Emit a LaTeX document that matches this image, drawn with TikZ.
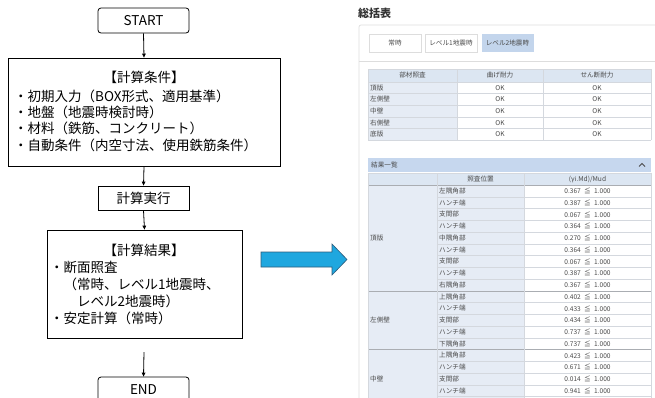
\documentclass[tikz,border=0pt]{standalone}
\usepackage{fontspec}
\setmainfont{Noto Sans CJK JP}
\usetikzlibrary{arrows.meta}
\definecolor{cellblue}{HTML}{E6ECF5}
\definecolor{headblue}{HTML}{DCE6F2}
\definecolor{barblue}{HTML}{C6D7EE}
\definecolor{tabblue}{HTML}{C3D5EC}
\definecolor{gridgray}{HTML}{D4D8DE}
\definecolor{cardgray}{HTML}{DDDDDD}
\definecolor{txtgray}{HTML}{4A4A4A}
\definecolor{arrowblue}{HTML}{1FA7DF}
\definecolor{arrowedge}{HTML}{2E5B7A}
\begin{document}
\begin{tikzpicture}[x=1pt,y=-1pt,
  flowbox/.style={draw=black, line width=0.8pt, fill=white, inner sep=0pt},
  startend/.style={flowbox, rounded corners=3pt, minimum width=91pt, minimum height=25pt, font=\fontsize{13.5}{16}\selectfont},
  flowtxt/.style={font=\fontsize{13.5}{16}\selectfont, inner sep=0pt, anchor=west},
  conn/.style={draw, line width=0.8pt, -{Triangle[length=4pt,width=3.6pt]}},
  small/.style={font=\fontsize{6.6}{8}\selectfont, text=txtgray, inner sep=0pt},
  tabbtn/.style={small, minimum width=52pt, minimum height=18pt, inner sep=0pt},
  grid/.style={draw=gridgray, line width=0.5pt}]
\useasboundingbox (0,0) rectangle (655,397);
\fill[white] (0,0) rectangle (655,397);

% ---------------- flowchart ----------------
\node[startend] (start) at (143.5,20.5) {START};
\node[flowbox, minimum width=272pt, minimum height=108pt] (cond) at (144,112) {};
\node[flowtxt, anchor=center] (c0) at (144,77) {【計算条件】};
\node[flowtxt] (c1) at (14,96) {・初期入力（BOX形式、適用基準）};
\node[flowtxt] (c2) at (14,112.3) {・地盤（地震時検討時）};
\node[flowtxt] (c3) at (14,128.6) {・材料（鉄筋、コンクリート）};
\node[flowtxt] (c4) at (14,145) {・自動条件（内空寸法、使用鉄筋条件）};

\node[flowbox, minimum width=91pt, minimum height=24pt, font=\fontsize{13.5}{16}\selectfont] (exec) at (143.5,198) {計算実行};

\node[flowbox, minimum width=195pt, minimum height=108pt] (res) at (144.5,284) {};
\node[flowtxt, anchor=center] (r0) at (144,250) {【計算結果】};
\node[flowtxt] (r1) at (50,267.5) {・断面照査};
\node[flowtxt] (r2) at (50,284.3) {　（常時、レベル1地震時、};
\node[flowtxt] (r3) at (50,301) {　　レベル2地震時）};
\node[flowtxt] (r4) at (50,318) {・安定計算（常時）};

\node[startend] (end) at (143.5,389.5) {END};
\coordinate (gap) at (144,352);

\draw[conn] (start.south) -- (cond.north);
\draw[conn] (cond.south) -- (exec.north);
\draw[conn] (exec.south) -- (res.north);
\draw[conn] (gap) -- (end.north);

% big blue arrow
\draw[fill=arrowblue, draw=arrowedge, line width=0.6pt]
  (261,252) -- (332,252) -- (332,244) -- (347,259.5) -- (332,275) -- (332,267) -- (261,267) -- cycle;

% ---------------- screenshot panel ----------------
\node[anchor=west, inner sep=0pt, font=\fontsize{11}{12}\bfseries, text=black!80] (title) at (358,13) {総括表};
\draw[cardgray, line width=0.7pt, rounded corners=2pt] (359,400) -- (359,25) -- (660,25);
\draw[cardgray, line width=0.7pt] (359,61) -- (655,61);

\node[tabbtn, draw=cardgray] (tab1) at (395,43) {常時};
\node[tabbtn, draw=cardgray] (tab2) at (451,43) {レベル1地震時};
\node[tabbtn, fill=tabblue] (tab3) at (507.5,43) {レベル2地震時};

% table 1
\fill[headblue] (368,69) rectangle (651,82);
\fill[cellblue] (368,82) rectangle (457,140);
\foreach \yy in {69,82,93.6,105.2,116.8,128.4,140} \draw[grid] (368,\yy) -- (651,\yy);
\foreach \xx in {368,457,543,651} \draw[grid] (\xx,69) -- (\xx,140);
\node[small] (h1) at (412.5,75.5) {部材照査};
\node[small] (h2) at (500,75.5) {曲げ耐力};
\node[small] (h3) at (597,75.5) {せん断耐力};
\foreach \lab [count=\i from 0] in {頂版,左側壁,中壁,右側壁,底版} {
  \node[small, anchor=west] (m\i) at (370,87.8+11.6*\i) {\lab};
  \node[small] (ok\i) at (500,87.8+11.6*\i) {OK};
  \node[small] (sk\i) at (597,87.8+11.6*\i) {OK};
}

% section bar
\fill[barblue] (368,158) rectangle (651,172);
\node[small, anchor=west] (sec) at (371,165) {結果一覧};
\draw[txtgray, line width=0.9pt] (639,166.5) -- (642,163.5) -- (645,166.5);

% table 2
\fill[headblue] (368,173) rectangle (651,185);
\fill[cellblue] (368,185) rectangle (524,410);
\draw[grid] (368,173) -- (651,173);
\foreach \k in {0,...,19} \draw[grid] (437,185+11.75*\k) -- (651,185+11.75*\k);
\foreach \k in {0,9,14,19} \draw[grid, draw=gridgray!80!black] (368,185+11.75*\k) -- (651,185+11.75*\k);
\foreach \xx in {368,437,524,651} \draw[grid] (\xx,173) -- (\xx,410);
\node[small] (hh2) at (480.5,179) {照査位置};
\node[small] (hh3) at (587.5,179) {(γi.Md)/Mud};
\node[small, anchor=west] (g1) at (370,238) {頂版};
\node[small, anchor=west] (g2) at (370,320) {左側壁};
\node[small, anchor=west] (g3) at (370,378.8) {中壁};
\foreach \lab/\val [count=\i from 0] in {左隅角部/0.367,ハンチ端/0.387,支間部/0.067,ハンチ端/0.364,中隅角部/0.270,ハンチ端/0.364,支間部/0.067,ハンチ端/0.387,右隅角部/0.367,上隅角部/0.402,ハンチ端/0.433,支間部/0.434,ハンチ端/0.737,下隅角部/0.737,上隅角部/0.423,ハンチ端/0.671,支間部/0.014,ハンチ端/0.941} {
  \node[small, anchor=west] (p\i) at (439,190.875+11.75*\i) {\lab};
  \node[small] (v\i) at (587.5,190.875+11.75*\i) {\val\enspace≦\enspace1.000};
}
\end{tikzpicture}
\end{document}
